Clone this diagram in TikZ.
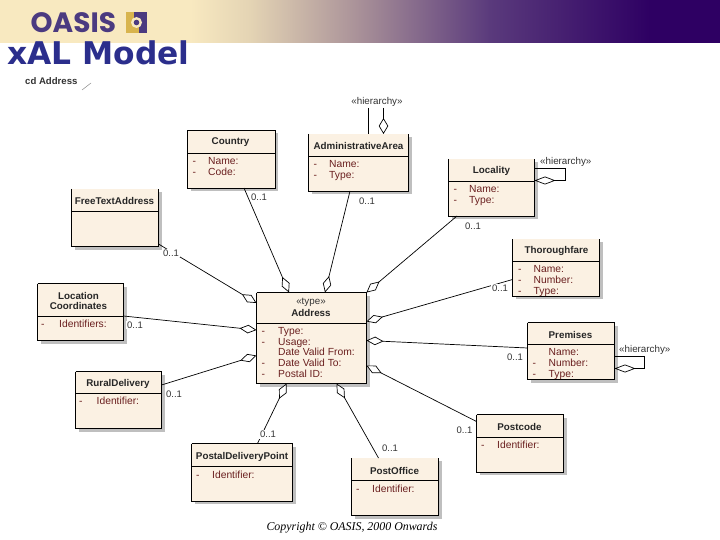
\documentclass[tikz,border=0pt]{standalone}
\usepackage{fontspec}
\setmainfont{Liberation Sans}
\newfontfamily\serifit{Liberation Serif}
\newfontfamily\titlefont{DejaVu Sans}
\newfontfamily\logofont{Poppins}
\usetikzlibrary{arrows.meta,calc,shadows}
\definecolor{boxfill}{HTML}{FBF1E3}
\definecolor{attrcol}{HTML}{6A1F1F}
\definecolor{titleblue}{HTML}{2B2E8C}
\definecolor{logopurple}{HTML}{4B3A80}
\definecolor{logogold}{HTML}{D8B44E}
\definecolor{bandA}{HTML}{F8E9C0}
\definecolor{bandB}{HTML}{E4D4B4}
\definecolor{bandC}{HTML}{A89098}
\definecolor{bandD}{HTML}{5A3A7C}
\definecolor{bandE}{HTML}{2E0063}
\tikzset{
  boxbody/.style={fill=boxfill,inner sep=0pt,outer sep=0pt,
    drop shadow={shadow xshift=3pt,shadow yshift=-3pt,fill=black!25,opacity=1}},
  edge/.style={line width=.8pt,black},
  boxtitle/.style={font=\fontsize{9.8}{10.8}\selectfont\bfseries,align=center,inner sep=0pt,text=black!85},
  attrs/.style={font=\fontsize{10.3}{10.8}\selectfont,align=left,anchor=north west,inner sep=0pt,text=attrcol},
  stereo/.style={font=\fontsize{9.8}{10.8}\selectfont,inner sep=0pt,text=black!80},
  mult/.style={font=\fontsize{9.5}{10.8}\selectfont,fill=white,inner sep=1pt,text=black!80},
  assoc/.style={line width=.7pt,black,-{Diamond[open,fill=white,length=17pt,width=8.5pt]}},
  loopline/.style={line width=.7pt,black,-{Diamond[open,fill=white,length=21pt,width=8pt]}},
  vertline/.style={line width=.7pt,black,-{Diamond[open,fill=white,length=16pt,width=9.5pt]}},
}
% name, x1, y1, x2, y2, header y
\newcommand{\umlbody}[6]{%
  \pgfmathsetmacro{\bw}{#4-#2}\pgfmathsetmacro{\bh}{#5-#3}%
  \node[boxbody,minimum width=\bw pt,minimum height=\bh pt] (#1) at ({(#2+#4)/2},{(#3+#5)/2}) {};
  \draw[edge] (#1.north west) -- (#1.south west) -- (#1.south east) -- (#1.north east);
  \draw[edge] (#1.west |- 0,#6) -- (#1.east |- 0,#6);
}
\newcommand{\topedge}[1]{\draw[edge] (#1.north west) -- (#1.north east);}
\newcommand{\rowd}[2]{\makebox[#1pt][l]{-}#2}
\begin{document}
\begin{tikzpicture}[x=1pt,y=-1pt]
\useasboundingbox (0,0) rectangle (720,540);
\fill[white] (0,0) rectangle (720,540);
% header band
\fill[bandA] (0,0) rectangle (190,43);
\shade[left color=bandA,right color=bandB] (189.7,0) rectangle (250,43);
\shade[left color=bandB,right color=bandC] (249.7,0) rectangle (360,43);
\shade[left color=bandC,right color=bandD] (359.7,0) rectangle (490,43);
\shade[left color=bandD,right color=bandE] (489.7,0) rectangle (650,43);
\fill[bandE] (649.7,0) rectangle (720,43);
% logo
\node[font=\logofont\fontsize{28}{30}\selectfont\bfseries,text=logopurple,inner sep=0pt,anchor=base west] (oasis) at (30.5,33) {OASIS};
\fill[logogold] (126,12) rectangle (134,33);
\fill[logogold] (134,25) rectangle (138,33);
\fill[logopurple] (137,12) rectangle (147,33);
\fill[logopurple] (134,12) rectangle (137,18);
\fill[logogold] (134,27) rectangle (139,33);
\fill[bandA] (136.5,22.5) circle[radius=5.5];
\fill[logopurple] (136.5,22.5) circle[radius=2.8];
% title
\node[font=\titlefont\fontsize{31.3}{32}\selectfont\bfseries,text=titleblue,inner sep=0pt,anchor=base west] (title) at (7,65) {xAL Model};
% frame label
\node[font=\fontsize{9.6}{10}\selectfont\bfseries,text=black!80,inner sep=0pt,anchor=base west] (cd) at (25,85) {cd Address};
\coordinate (slashA) at (82,90);
\coordinate (slashB) at (91,83);
\draw[black!45,line width=.5pt] (slashA) -- (slashB);
% boxes
\umlbody{country}{187.5}{130.5}{275}{188}{153.5}\topedge{country}
\umlbody{admin}{308.5}{134}{408.5}{191}{156}
\umlbody{locality}{448.5}{159}{534.5}{216}{181}
\umlbody{freetext}{71.5}{189}{158.5}{246.5}{211}
\umlbody{thorough}{512.5}{239}{599.5}{296}{261.5}
\umlbody{loccoord}{37.5}{283.5}{123.5}{340.5}{316}\topedge{loccoord}
\umlbody{address}{256.5}{292.5}{366.5}{383.5}{323}\topedge{address}
\umlbody{premises}{527.5}{322.5}{614.5}{379.5}{344.5}\topedge{premises}
\umlbody{rural}{75.5}{371.5}{161.5}{428.5}{393}\topedge{rural}
\umlbody{postcode}{476.5}{414.5}{563.5}{472}{437}\topedge{postcode}
\umlbody{pdp}{191.5}{443.5}{292.5}{501}{466.5}\topedge{pdp}
\umlbody{postoffice}{351.5}{458}{438.5}{515.5}{480.5}
% titles
\node[boxtitle] (tcountry) at (230.5,142) {Country};
\node[boxtitle] (tadmin) at (358.5,146) {AdministrativeArea};
\node[boxtitle] (tlocality) at (491.5,171) {Locality};
\node[boxtitle] (tfree) at (114.5,201) {FreeTextAddress};
\node[boxtitle] (tthorough) at (556.5,251) {Thoroughfare};
\node[boxtitle] (tloc) at (78.5,301) {Location\\Coordinates};
\node[stereo] (ttype) at (311,302) {«type»};
\node[boxtitle] (taddress) at (311,313) {Address};
\node[boxtitle] (tpremises) at (570.5,334.5) {Premises};
\node[boxtitle] (trural) at (118,384) {RuralDelivery};
\node[boxtitle] (tpostcode) at (519.5,427) {Postcode};
\node[boxtitle] (tpdp) at (242,456.5) {PostalDeliveryPoint};
\node[boxtitle] (tpostoffice) at (394.5,470.5) {PostOffice};
% attributes
\node[attrs] (acountry) at (192.5,157.5) {\rowd{15.5}{Name:}\\\rowd{15.5}{Code:}};
\node[attrs] (aadmin) at (313.5,160) {\rowd{15.5}{Name:}\\\rowd{15.5}{Type:}};
\node[attrs] (alocality) at (453.5,185) {\rowd{15.5}{Name:}\\\rowd{15.5}{Type:}};
\node[attrs] (athorough) at (518,265.5) {\rowd{15.5}{Name:}\\\rowd{15.5}{Number:}\\\rowd{15.5}{Type:}};
\node[attrs] (aloc) at (41,320) {\rowd{18}{Identifiers:}};
\node[attrs] (aaddress) at (261.5,327) {\rowd{16.5}{Type:}\\\rowd{16.5}{Usage:}\\\hspace*{16.5pt}Date Valid From:\\\rowd{16.5}{Date Valid To:}\\\rowd{16.5}{Postal ID:}};
\node[attrs] (apremises) at (532.5,348.5) {\hspace*{16pt}Name:\\\rowd{16}{Number:}\\\rowd{16}{Type:}};
\node[attrs] (arural) at (79,397) {\rowd{17.5}{Identifier:}};
\node[attrs] (apostcode) at (481,441) {\rowd{16}{Identifier:}};
\node[attrs] (apdp) at (196,470.5) {\rowd{16}{Identifier:}};
\node[attrs] (apostoffice) at (356,484.5) {\rowd{16}{Identifier:}};
% associations to Address
\coordinate (tipfree) at ($(address.north west)+(0,10.5)$);
\coordinate (tiploc) at ($(address.north west)+(0,37.5)$);
\coordinate (tiprural) at ($(address.north west)+(0,63)$);
\coordinate (tipcountry) at ($(address.north west)+(32.5,0)$);
\coordinate (tipadmin) at ($(address.north west)+(68.5,0)$);
\coordinate (tiplocality) at ($(address.north east)+(0,0)$);
\coordinate (tipthorough) at ($(address.north east)+(0,29)$);
\coordinate (tippremises) at ($(address.north east)+(0,48)$);
\coordinate (tippostcode) at ($(address.south east)+(0,-18)$);
\coordinate (tippdp) at ($(address.south west)+(30,0)$);
\coordinate (tippostoffice) at ($(address.south west)+(80,0)$);
\draw[assoc] ($(freetext.south east)+(0,-2.5)$) -- (tipfree);
\draw[assoc] ($(loccoord.north east)+(0,32.5)$) -- (tiploc);
\draw[assoc] ($(rural.north east)+(0,13.5)$) -- (tiprural);
\draw[assoc] ($(country.south west)+(56.5,0)$) -- (tipcountry);
\draw[assoc] ($(admin.south west)+(41.5,0)$) -- (tipadmin);
\draw[assoc] ($(locality.south west)+(8.5,0)$) -- (tiplocality);
\draw[assoc] ($(thorough.south west)+(0,-16.5)$) -- (tipthorough);
\draw[assoc] ($(premises.north west)+(0,25.5)$) -- (tippremises);
\draw[assoc] ($(postcode.north west)+(0,7)$) -- (tippostcode);
\draw[assoc] ($(pdp.north west)+(66,0)$) -- (tippdp);
\draw[assoc] ($(postoffice.north west)+(27,0)$) -- (tippostoffice);
% multiplicities
\node[mult] (m1) at (259,197) {0..1};
\node[mult] (m2) at (367,201) {0..1};
\node[mult] (m3) at (473,226) {0..1};
\node[mult] (m4) at (171,253) {0..1};
\node[mult] (m5) at (500,288) {0..1};
\node[mult] (m6) at (135,325) {0..1};
\node[mult] (m7) at (515,357.5) {0..1};
\node[mult] (m8) at (174,394.5) {0..1};
\node[mult] (m9) at (464.5,430.5) {0..1};
\node[mult] (m10) at (268,434.5) {0..1};
\node[mult] (m11) at (390,448) {0..1};
% hierarchy relations
\node[stereo] (h1) at (377,101.5) {«hierarchy»};
\node[stereo,anchor=west] (h2) at (540,162) {«hierarchy»};
\node[stereo,anchor=west] (h3) at (619,350) {«hierarchy»};
\coordinate (adminup) at ($(admin.north west)+(60,-26)$);
\coordinate (admintop) at ($(admin.north west)+(60,0)$);
\coordinate (adminupb) at ($(admin.north west)+(75,-26)$);
\coordinate (admintopb) at ($(admin.north west)+(75,0)$);
\draw[line width=.7pt] (adminup) -- (admintop);
\draw[vertline] (adminupb) -- (admintopb);
\coordinate (locfrom) at ($(locality.north east)+(0,9)$);
\coordinate (locto) at ($(locality.north east)+(0,21.5)$);
\draw[loopline] (locfrom) -- ++(31,0) -- ++(0,12.5) -- (locto);
\coordinate (premfrom) at ($(premises.north east)+(0,34)$);
\coordinate (premto) at ($(premises.north east)+(0,46)$);
\draw[loopline] (premfrom) -- ++(30,0) -- ++(0,12) -- (premto);
% copyright
\node[font=\serifit\fontsize{11.9}{13}\selectfont\itshape,text=black,inner sep=0pt] (copy) at (352,528) {Copyright © OASIS, 2000 Onwards};
\end{tikzpicture}
\end{document}
